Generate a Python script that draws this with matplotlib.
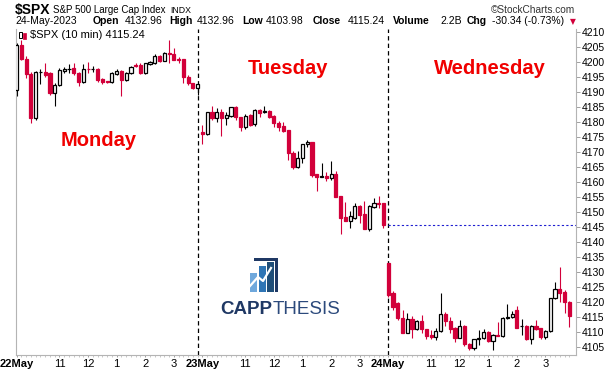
import numpy as np
import matplotlib.pyplot as plt
from matplotlib.patches import Rectangle, Polygon

plt.rcParams['font.family'] = ['Liberation Sans', 'DejaVu Sans']

# 10 min candles of $SPX, 9:30 .. 15:50 each day
mon_open = [4190.8, 4205.8, 4201.0, 4196.0, 4181.2, 4196.5, 4196.6, 4196.4, 4189.8, 4192.3,
            4197.1, 4197.6, 4197.9, 4196.4, 4193.4, 4197.8, 4197.5, 4197.6, 4194.2, 4193.6,
            4193.2, 4195.9, 4197.0, 4194.0, 4196.4, 4199.0, 4199.0, 4196.3, 4199.2, 4199.6,
            4202.0, 4200.4, 4203.1, 4202.7, 4201.0, 4200.9, 4195.1, 4192.9, 4191.2]
mon_high = [4206.3, 4207.3, 4202.0, 4196.5, 4197.0, 4197.8, 4199.5, 4196.6, 4193.0, 4198.0,
            4198.4, 4199.2, 4199.8, 4196.6, 4199.3, 4200.0, 4198.5, 4197.9, 4194.5, 4193.8,
            4196.7, 4197.5, 4197.3, 4196.8, 4198.7, 4199.6, 4199.6, 4199.8, 4200.3, 4202.5,
            4202.2, 4203.4, 4207.3, 4204.5, 4201.5, 4201.0, 4195.5, 4193.0, 4192.8]
mon_low = [4188.5, 4200.5, 4194.5, 4179.7, 4180.5, 4192.5, 4195.0, 4189.0, 4185.3, 4192.0,
           4196.4, 4196.2, 4195.7, 4192.1, 4193.0, 4196.2, 4196.8, 4193.4, 4192.8, 4192.9,
           4192.9, 4195.7, 4188.7, 4193.5, 4196.0, 4198.3, 4195.9, 4196.0, 4198.9, 4199.4,
           4200.0, 4200.2, 4199.6, 4200.5, 4199.7, 4192.9, 4192.3, 4191.0, 4189.0]
mon_close = [4205.8, 4201.0, 4196.0, 4181.2, 4196.6, 4196.8, 4195.7, 4189.8, 4192.3, 4197.3,
             4197.7, 4197.8, 4196.4, 4193.4, 4197.6, 4197.5, 4197.7, 4194.0, 4193.4, 4193.2,
             4196.2, 4197.0, 4194.0, 4196.2, 4198.4, 4198.6, 4196.2, 4199.5, 4199.9, 4202.0,
             4200.4, 4203.1, 4202.6, 4200.8, 4200.7, 4195.1, 4192.9, 4191.2, 4192.6]

tue_open = [4176.8, 4175.9, 4183.2, 4181.4, 4183.2, 4181.2, 4182.1, 4185.1, 4181.6, 4178.4,
            4182.3, 4179.2, 4184.0, 4183.4, 4183.7, 4182.0, 4179.8, 4178.7, 4177.3, 4169.6,
            4165.1, 4167.9, 4172.6, 4173.3, 4162.7, 4161.8, 4162.0, 4161.4, 4162.7, 4155.3,
            4148.4, 4147.1, 4148.1, 4152.0, 4149.2, 4144.4, 4151.8, 4152.9, 4152.9]
tue_high = [4179.0, 4183.4, 4185.3, 4184.6, 4184.2, 4183.4, 4185.1, 4185.3, 4181.8, 4182.7,
            4182.5, 4184.2, 4184.2, 4185.3, 4184.0, 4182.3, 4180.4, 4180.1, 4177.3, 4170.4,
            4170.3, 4172.7, 4174.0, 4173.3, 4162.7, 4166.2, 4163.2, 4166.9, 4163.8, 4155.3,
            4153.2, 4150.3, 4152.9, 4152.2, 4153.6, 4152.3, 4154.6, 4155.3, 4153.0]
tue_low = [4172.6, 4175.7, 4180.7, 4180.1, 4175.4, 4179.0, 4181.8, 4180.7, 4177.1, 4177.7,
           4178.7, 4178.8, 4181.8, 4182.9, 4181.2, 4178.4, 4177.1, 4176.8, 4167.3, 4164.2,
           4164.7, 4166.4, 4171.8, 4161.8, 4157.1, 4161.7, 4160.4, 4160.7, 4154.9, 4142.5,
           4147.0, 4144.8, 4147.8, 4146.4, 4144.4, 4143.8, 4151.4, 4151.4, 4144.8]
tue_close = [4175.9, 4183.2, 4181.4, 4183.2, 4181.2, 4182.3, 4184.9, 4181.8, 4178.4, 4182.1,
             4179.0, 4184.0, 4183.1, 4183.5, 4181.8, 4179.8, 4178.4, 4177.1, 4169.6, 4165.1,
             4167.9, 4172.7, 4173.3, 4162.3, 4161.8, 4161.9, 4161.4, 4162.6, 4155.1, 4148.1,
             4147.1, 4148.7, 4152.0, 4149.1, 4144.4, 4152.0, 4152.9, 4152.7, 4145.6]

wed_open = [4133.0, 4122.9, 4119.8, 4114.6, 4109.8, 4114.2, 4110.9, 4113.7, 4110.9, 4109.0,
            4108.2, 4110.4, 4115.9, 4113.7, 4111.2, 4108.1, 4112.0, 4105.9, 4104.6, 4107.6,
            4107.9, 4110.1, 4107.1, 4109.0, 4108.7, 4114.6, 4114.9, 4117.3, 4111.9, 4112.0,
            4107.6, 4112.0, 4111.2, 4108.4, 4110.4, 4121.2, 4124.2, 4123.4, 4120.0]
wed_high = [4133.0, 4123.7, 4120.0, 4117.3, 4116.4, 4115.3, 4114.0, 4115.7, 4111.0, 4110.6,
            4111.2, 4123.1, 4116.8, 4115.1, 4111.8, 4114.0, 4112.2, 4106.2, 4107.8, 4110.6,
            4110.9, 4110.3, 4109.2, 4113.4, 4115.1, 4119.3, 4117.0, 4118.7, 4114.2, 4112.2,
            4112.3, 4114.0, 4111.4, 4110.6, 4121.3, 4126.8, 4131.8, 4124.0, 4120.2]
wed_low = [4121.5, 4117.3, 4114.0, 4109.8, 4109.5, 4107.9, 4110.5, 4109.5, 4107.6, 4107.8,
           4107.3, 4110.1, 4112.0, 4109.5, 4106.8, 4107.9, 4105.4, 4104.0, 4104.1, 4105.7,
           4107.6, 4106.8, 4104.0, 4108.5, 4108.4, 4114.3, 4114.8, 4111.2, 4109.0, 4107.3,
           4106.0, 4110.5, 4107.6, 4107.5, 4110.0, 4121.0, 4120.0, 4116.4, 4111.8]
wed_close = [4122.3, 4118.4, 4114.6, 4109.8, 4114.2, 4111.1, 4113.7, 4110.9, 4108.7, 4108.2,
             4110.4, 4115.9, 4113.7, 4111.0, 4108.1, 4112.0, 4105.9, 4104.6, 4107.6, 4107.9,
             4110.1, 4107.1, 4109.0, 4108.8, 4114.6, 4114.9, 4115.9, 4111.4, 4112.1, 4107.6,
             4112.0, 4111.1, 4108.4, 4110.4, 4121.2, 4124.2, 4123.1, 4120.0, 4115.24]

day_labels = ['22May', '23May', '24May']
day_names = ['Monday', 'Tuesday', 'Wednesday']
hour_labels = ['11', '12', '1', '2', '3']
hour_bars = [9, 15, 21, 27, 33]   # bars after the 9:30 open
price_ticks = list(range(4105, 4211, 5))

W, H = 608, 372
RED = '#d2003a'


def fx(px):
    return px / W


def fy(py):
    return 1 - py / H


opens = np.array(mon_open + tue_open + wed_open)
highs = np.array(mon_high + tue_high + wed_high)
lows = np.array(mon_low + tue_low + wed_low)
closes = np.array(mon_close + tue_close + wed_close)
x = np.arange(len(opens))
starts = [0, len(mon_open), len(mon_open) + len(tue_open)]

fig = plt.figure(figsize=(W / 100, H / 100), dpi=100)
ax = fig.add_axes([fx(15.7), fy(355), fx(575.5 - 15.7), (355 - 29) / H])

up = closes >= opens
edge = np.where(up, 'black', RED)
ax.vlines(x, lows, highs, colors=edge, linewidth=0.8, zorder=2)
body = np.maximum(np.abs(closes - opens), 0.12)
ax.bar(x, body, bottom=np.minimum(opens, closes), width=0.66,
       color=np.where(up, 'white', RED), edgecolor=edge, linewidth=0.9, zorder=3)

# session separators and previous close line
ax.axvline(starts[1] - 0.9, color='black', lw=0.9, ls=(0, (3.5, 2.5)), zorder=1)
ax.axvline(starts[2], color='black', lw=0.9, ls=(0, (3.5, 2.5)), zorder=1)
ax.hlines(tue_close[-1], starts[2], 118, color='#1f1fd0', lw=0.8, ls=(0, (2, 2)), zorder=1)

ax.set_xlim(-0.19, 117.3)
ax.set_ylim(4102.3, 4211)

ax.yaxis.tick_right()
ax.set_yticks(price_ticks)
ax.set_yticklabels([str(t) for t in price_ticks])
ax.tick_params(axis='y', length=3, width=0.6, color='#909090', pad=1.5, labelsize=7.5)

xt, xl = [], []
for s, d in zip(starts, day_labels):
    xt.append(s)
    xl.append(d)
    for hb, hl in zip(hour_bars, hour_labels):
        xt.append(s + hb)
        xl.append(hl)
ax.set_xticks(xt)
ax.set_xticklabels(xl)
for t in ax.get_xticklabels():
    if 'May' in t.get_text():
        t.set_fontweight('bold')
ax.set_xticks(x, minor=True)
ax.tick_params(axis='x', which='major', length=1.5, width=0.6, color='#909090', pad=1.5, labelsize=8)
ax.tick_params(axis='x', which='minor', length=1.5, width=0.5, color='#b0b0b0')

for side in ['left', 'right', 'bottom']:
    ax.spines[side].set_color('#b4b4b4')
    ax.spines[side].set_linewidth(0.8)
ax.spines['top'].set_visible(False)

# header
fig.text(fx(15), fy(10), '$SPX', fontsize=10, fontweight='bold', va='center')
fig.text(fx(53), fy(10), 'S&P 500 Large Cap Index', fontsize=7, va='center')
fig.text(fx(170), fy(10.5), 'INDX', fontsize=6.3, va='center')
fig.text(fx(575), fy(10), '\u00a9StockCharts.com', fontsize=7.3, va='center', ha='right', color='#333333')

line2 = [(15.5, '24-May-2023', 'normal'), (93, 'Open', 'bold'), (125, '4132.96', 'normal'),
         (169, 'High', 'bold'), (196.5, '4132.96', 'normal'), (242, 'Low', 'bold'),
         (266, '4103.98', 'normal'), (313, 'Close', 'bold'), (348, '4115.24', 'normal'),
         (393, 'Volume', 'bold'), (440, '2.2B', 'normal'), (467, 'Chg', 'bold'),
         (491.5, '-30.34 (-0.73%)', 'normal')]
for px, txt, wgt in line2:
    fig.text(fx(px), fy(21.5), txt, fontsize=7.5, fontweight=wgt, va='center')
fig.text(fx(573), fy(21.5), '\u25bc', fontsize=5.5, color=RED, va='center', ha='center',
         family='DejaVu Sans')

# legend line inside the plot
fig.patches.append(Rectangle((fx(18.5), fy(38)), fx(3), (38 - 32) / H, transform=fig.transFigure,
                             facecolor='white', edgecolor='black', lw=0.7))
fig.patches.append(Rectangle((fx(22.5), fy(39)), fx(3), (39 - 33) / H, transform=fig.transFigure,
                             facecolor=RED, edgecolor=RED, lw=0.5))
fig.text(fx(30), fy(35), '$SPX (10 min) 4115.24', fontsize=8, va='center')

# day names
fig.text(fx(99), fy(141), day_names[0], fontsize=14.5, fontweight='bold', color='#f00000',
         ha='center', va='center')
fig.text(fx(288), fy(68), day_names[1], fontsize=14.5, fontweight='bold', color='#f00000',
         ha='center', va='center')
fig.text(fx(490), fy(68), day_names[2], fontsize=14.5, fontweight='bold', color='#f00000',
         ha='center', va='center')

# CAPPTHESIS watermark
for x0, top, col in [(250, 273, '#6fa8dc'), (258.5, 266, '#2f75b5'), (267, 262, '#1f4e79')]:
    fig.patches.append(Rectangle((fx(x0), fy(292)), fx(7), (292 - top) / H,
                                 transform=fig.transFigure, facecolor=col, edgecolor='none'))
fig.patches.append(Polygon([(fx(254), fy(258)), (fx(278), fy(258)), (fx(278), fy(292)),
                            (fx(275), fy(292)), (fx(275), fy(261)), (fx(254), fy(261))],
                           closed=True, transform=fig.transFigure, facecolor='#1f3864',
                           edgecolor='none'))
fig.lines.append(plt.Line2D([fx(250), fx(258), fx(263), fx(271)], [fy(286), fy(277), fy(281), fy(268)],
                            transform=fig.transFigure, color='white', lw=1.6))
fig.text(fx(272), fy(309), 'CAPP', fontsize=13.5, fontweight='bold', color='#1f3864',
         ha='right', va='center')
fig.text(fx(273), fy(309), 'THESIS', fontsize=13.5, color='#2c4a7c', ha='left', va='center')

fig.savefig('out.png', dpi=100)
